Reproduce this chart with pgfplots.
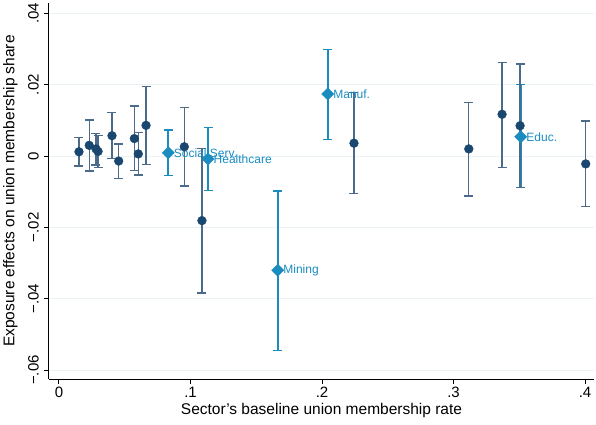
\documentclass[border=0pt]{standalone}
\usepackage{fontspec}
\setmainfont{Liberation Sans}
\usepackage{pgfplots}
\pgfplotsset{compat=1.18}
\definecolor{navydot}{HTML}{1A476F}
\definecolor{navybar}{HTML}{4C6A8A}
\definecolor{ebb}{HTML}{1A8CC0}
\definecolor{gridc}{HTML}{EAF2F3}
\begin{document}
\begin{tikzpicture}
\useasboundingbox (0,0) rectangle (596pt,424pt);
\begin{axis}[
  at={(49pt,45pt)}, anchor=south west, scale only axis,
  width=545pt, height=376pt,
  xmin=-0.0076, xmax=0.4068, ymin=-0.0625, ymax=0.0429,
  scaled x ticks=false, scaled y ticks=false,
  axis x line*=bottom, axis y line*=left,
  axis line style={line width=1pt, black, -},
  tick align=outside, major tick length=5pt,
  tick style={line width=1pt, black},
  xtick={0,0.1,0.2,0.3,0.4}, xticklabels={0,.1,.2,.3,.4},
  ytick={-0.06,-0.04,-0.02,0,0.02,0.04},
  yticklabels={−.06,−.04,−.02,0,.02,.04},
  yticklabel style={rotate=90, anchor=south, inner sep=5pt},
  xticklabel style={inner sep=3pt},
  ymajorgrids, grid style={line width=1pt, color=gridc},
  tick label style={font=\fontsize{15}{18}\selectfont},
  label style={font=\fontsize{15.5}{18}\selectfont},
  xlabel={Sector's baseline union membership rate},
  ylabel={Exposure effects on union membership share},
  xlabel style={yshift=1pt},
  ylabel style={yshift=2pt},
  clip=false,
]
\addplot[only marks, color=ebb, mark=square*, mark size=4.3pt,
  mark options={rotate=45, fill=ebb, draw=ebb},
  point meta=explicit symbolic, nodes near coords,
  every node near coord/.append style={anchor=west, inner sep=0pt,
    xshift=5.5pt, font=\fontsize{12}{14}\selectfont, text=ebb},
  error bars/.cd, y dir=both, y explicit,
  error bar style={line width=1.8pt, color=ebb},
  error mark options={line width=1.2pt, color=ebb, mark size=4.5pt, rotate=90}]
  table[col sep=comma, x=x, y=y, y error plus=ep, y error minus=em, meta=lab]{
x,y,ep,em,lab
0.0831,0.0009,0.0064,0.0064,Social Serv.
0.1133,-0.0008,0.0087,0.0088,Healthcare
0.1663,-0.0320,0.0222,0.0224,Mining
0.2043,0.0174,0.0125,0.0127,Manuf.
0.3511,0.0054,0.0146,0.0143,Educ.
};
\addplot[only marks, color=navydot, mark=*, mark size=4.4pt,
  mark options={fill=navydot, draw=navydot},
  error bars/.cd, y dir=both, y explicit,
  error bar style={line width=1.3pt, color=navybar},
  error mark options={line width=1.2pt, color=navybar, mark size=4.5pt, rotate=90}]
  table[x=x, y=y, y error plus=ep, y error minus=em]{
x y ep em
0.0152 0.0012 0.0041 0.0040
0.0230 0.0030 0.0071 0.0072
0.0281 0.0020 0.0044 0.0045
0.0297 0.0013 0.0045 0.0045
0.0403 0.0057 0.0064 0.0065
0.0454 -0.0014 0.0048 0.0048
0.0573 0.0049 0.0091 0.0090
0.0603 0.0006 0.0060 0.0059
0.0662 0.0086 0.0110 0.0109
0.0953 0.0026 0.0111 0.0110
0.1087 -0.0181 0.0203 0.0203
0.2243 0.0036 0.0143 0.0142
0.3116 0.0020 0.0131 0.0132
0.3369 0.0117 0.0145 0.0148
0.3506 0.0085 0.0173 0.0173
0.4005 -0.0022 0.0120 0.0119
};
\end{axis}
\end{tikzpicture}
\end{document}
